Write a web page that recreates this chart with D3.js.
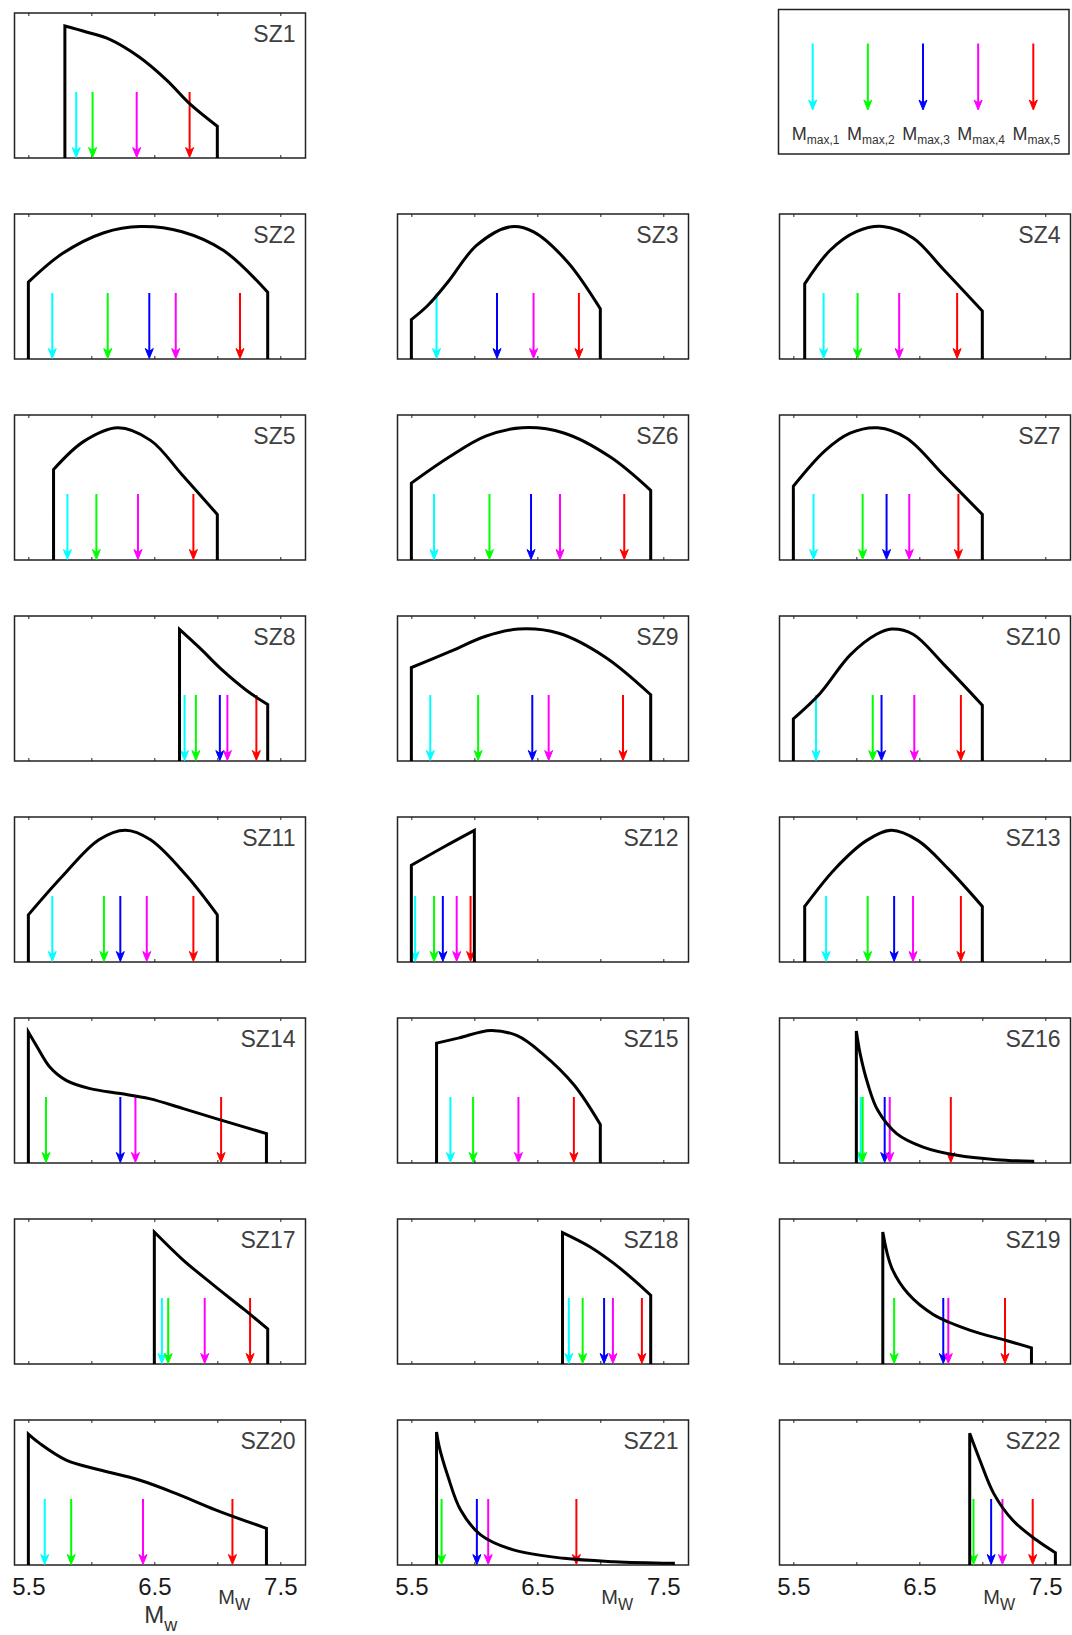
<!DOCTYPE html>
<html>
<head>
<meta charset="utf-8">
<script src="https://cdn.jsdelivr.net/npm/d3@7"></script>
<style>
  body { margin: 0; background: #fff; }
  svg { display: block; font-family: Arial, "Liberation Sans", Helvetica, sans-serif; }
</style>
</head>
<body>
<div id="chart"></div>
<script>
// source zones, in reading order (SZ1 alone on the first row)
const zones = ['SZ1', 'SZ2', 'SZ3', 'SZ4', 'SZ5', 'SZ6', 'SZ7', 'SZ8', 'SZ9', 'SZ10', 'SZ11',
  'SZ12', 'SZ13', 'SZ14', 'SZ15', 'SZ16', 'SZ17', 'SZ18', 'SZ19', 'SZ20', 'SZ21', 'SZ22'];

// magnitude pdf per zone: Mw values and relative density (0 = axis, 1 = top of box)
const curveM = [
  [5.79, 5.96, 6.15, 6.38, 6.60, 6.78, 7.0],
  [5.5, 5.77, 6.10, 6.39, 6.72, 7.05, 7.40],
  [5.5, 5.63, 5.79, 6.02, 6.29, 6.47, 6.74, 7.0],
  [5.59, 5.79, 6.0, 6.21, 6.45, 6.69, 7.0],
  [5.70, 5.94, 6.21, 6.47, 6.72, 7.0],
  [5.5, 5.80, 6.09, 6.38, 6.71, 7.08, 7.40],
  [5.5, 5.75, 5.95, 6.17, 6.40, 6.69, 7.0],
  [6.70, 6.86, 7.04, 7.23, 7.40],
  [5.5, 5.80, 6.09, 6.35, 6.67, 7.04, 7.40],
  [5.5, 5.71, 5.95, 6.16, 6.28, 6.45, 6.69, 7.0],
  [5.5, 5.77, 6.06, 6.27, 6.47, 6.76, 7.0],
  [5.5, 5.75, 6.0],
  [5.59, 5.83, 6.08, 6.28, 6.49, 6.73, 7.0],
  [5.5, 5.57, 5.67, 5.80, 5.99, 6.23, 6.46, 6.73, 6.99, 7.39],
  [5.70, 5.88, 6.13, 6.34, 6.54, 6.79, 7.0],
  [6.0, 6.03, 6.09, 6.17, 6.32, 6.53, 6.80, 7.11, 7.40],
  [6.50, 6.72, 6.97, 7.22, 7.40],
  [6.70, 6.92, 7.11, 7.27, 7.40],
  [6.21, 6.28, 6.41, 6.61, 6.90, 7.19, 7.39],
  [5.5, 5.59, 5.80, 6.07, 6.38, 6.67, 6.99, 7.39],
  [5.70, 5.72, 5.79, 5.89, 6.05, 6.31, 6.71, 7.11, 7.58],
  [6.90, 6.98, 7.09, 7.24, 7.43, 7.58]
];
const curveF = [
  [0.91, 0.869, 0.817, 0.697, 0.536, 0.375, 0.219],
  [0.53, 0.727, 0.871, 0.914, 0.878, 0.748, 0.46],
  [0.272, 0.369, 0.531, 0.785, 0.912, 0.877, 0.669, 0.346],
  [0.518, 0.748, 0.878, 0.914, 0.835, 0.619, 0.331],
  [0.624, 0.818, 0.912, 0.825, 0.588, 0.314],
  [0.53, 0.71, 0.854, 0.912, 0.876, 0.71, 0.48],
  [0.509, 0.753, 0.875, 0.912, 0.84, 0.588, 0.314],
  [0.908, 0.78, 0.626, 0.488, 0.389],
  [0.644, 0.752, 0.86, 0.91, 0.881, 0.716, 0.457],
  [0.291, 0.464, 0.73, 0.874, 0.91, 0.874, 0.67, 0.385],
  [0.325, 0.591, 0.843, 0.909, 0.843, 0.591, 0.325],
  [0.667, 0.79, 0.908],
  [0.383, 0.642, 0.837, 0.908, 0.837, 0.642, 0.383],
  [0.903, 0.80, 0.662, 0.57, 0.513, 0.479, 0.444, 0.375, 0.306, 0.203],
  [0.827, 0.863, 0.914, 0.878, 0.755, 0.54, 0.266],
  [0.91, 0.754, 0.548, 0.363, 0.203, 0.11, 0.053, 0.023, 0.012],
  [0.91, 0.724, 0.544, 0.371, 0.242],
  [0.906, 0.807, 0.692, 0.577, 0.474],
  [0.91, 0.665, 0.486, 0.342, 0.234, 0.162, 0.112],
  [0.903, 0.839, 0.724, 0.655, 0.586, 0.494, 0.379, 0.253],
  [0.917, 0.82, 0.612, 0.381, 0.208, 0.104, 0.046, 0.023, 0.012],
  [0.908, 0.724, 0.494, 0.31, 0.172, 0.085]
];

// Mmax estimates per zone (null = no arrow)
const mmax1 = [5.88, 5.69, 5.70, 5.74, 5.81, 5.68, 5.66, 6.74, 5.65, 5.68, 5.69,
  5.53, 5.76, null, 5.81, 6.035, 6.56, 6.75, null, 5.63, null, null];
const mmax2 = [6.01, 6.13, null, 6.01, 6.04, 6.12, 6.05, 6.83, 6.03, 6.13, 6.10,
  5.68, 6.09, 5.64, 5.99, 6.05, 6.61, 6.86, 6.30, 5.84, 5.74, 6.93];
const mmax3 = [null, 6.46, 6.18, null, null, 6.45, 6.24, 7.02, 6.46, 6.20, 6.23,
  5.75, 6.30, 6.23, null, 6.225, null, 7.03, 6.69, null, 6.02, 7.07];
const mmax4 = [6.36, 6.67, 6.47, 6.34, 6.37, 6.68, 6.42, 7.08, 6.59, 6.46, 6.44,
  5.86, 6.45, 6.35, 6.35, 6.265, 6.90, 7.10, 6.73, 6.41, 6.11, 7.16];
const mmax5 = [6.78, 7.18, 6.83, 6.80, 6.81, 7.19, 6.81, 7.31, 7.18, 6.83, 6.81,
  5.97, 6.83, 7.03, 6.79, 6.75, 7.26, 7.33, 7.18, 7.12, 6.81, 7.40];

const xTicks = [5.5, 6.0, 6.5, 7.0, 7.5];
const xTickLabels = ['5.5', '', '6.5', '', '7.5'];
const legendLabels = ['max,1', 'max,2', 'max,3', 'max,4', 'max,5'];

const arrowColors = ['#00ffff', '#00ff00', '#0000ff', '#ff00ff', '#ff0000'];
const mmaxSets = [mmax1, mmax2, mmax3, mmax4, mmax5];

// layout
const width = 1072, height = 1635;
const panelW = 291, panelH = 145;
const colX = [14.5, 397.5, 779.5];
const rowY0 = 13, rowStep = 201;
const arrowTop = 79;

const x = d3.scaleLinear().domain([5.39, 7.70]).range([0, panelW]);
const y = d3.scaleLinear().domain([0, 1]).range([panelH, 0]);

const svg = d3.select('#chart').append('svg')
    .attr('width', width)
    .attr('height', height);

function arrowHead(sel, cx, tipY, color) {
  sel.append('path')
    .attr('d', `M${cx},${tipY} L${cx - 4},${tipY - 10} L${cx},${tipY - 7} L${cx + 4},${tipY - 10} Z`)
    .attr('fill', color)
    .attr('stroke', color)
    .attr('stroke-width', 1);
}

const line = d3.line()
    .x(function(d) { return x(d[0]); })
    .y(function(d) { return y(d[1]); })
    .curve(d3.curveCatmullRom.alpha(0.5));

zones.forEach(function(name, i) {
  const slot = i === 0 ? 0 : i + 2;
  const row = Math.floor(slot / 3), col = slot % 3;
  const lastRow = row === 7;

  const g = svg.append('g')
      .attr('transform', `translate(${colX[col]},${rowY0 + row * rowStep})`);

  g.append('rect')
      .attr('width', panelW)
      .attr('height', panelH)
      .attr('fill', 'none')
      .attr('stroke', '#222')
      .attr('stroke-width', 1.5);

  // inward ticks top and bottom
  const top = g.append('g')
      .call(d3.axisTop(x).tickValues(xTicks).tickSize(-3).tickFormat(''));
  const bottom = g.append('g')
      .attr('transform', `translate(0,${panelH})`)
      .call(d3.axisBottom(x).tickValues(xTicks).tickSize(-3).tickPadding(12.5)
        .tickFormat(function(d, k) { return lastRow ? xTickLabels[k] : ''; }));
  [top, bottom].forEach(function(a) {
    a.select('.domain').remove();
    a.selectAll('line').attr('stroke', '#222').attr('stroke-width', 1);
  });
  bottom.selectAll('text')
      .attr('fill', '#1a1a1a')
      .style('font-size', '24px')
      .style('font-family', 'Arial, "Liberation Sans", sans-serif');

  // Mmax arrows
  mmaxSets.forEach(function(set, k) {
    const v = set[i];
    if (v === null) return;
    g.append('line')
        .attr('x1', x(v)).attr('x2', x(v))
        .attr('y1', arrowTop).attr('y2', panelH - 6)
        .attr('stroke', arrowColors[k])
        .attr('stroke-width', 2);
    arrowHead(g, x(v), panelH - 0.5, arrowColors[k]);
  });

  // truncated pdf
  const pts = curveM[i].map(function(m, j) { return [m, curveF[i][j]]; });
  const m0 = pts[0][0], mn = pts[pts.length - 1][0];
  g.append('path')
      .attr('d', `M${x(m0)},${y(0)}` + line(pts).replace(/^M/, 'L') + `L${x(mn)},${y(0)}`)
      .attr('fill', 'none')
      .attr('stroke', '#000')
      .attr('stroke-width', 3)
      .attr('stroke-linejoin', 'miter');

  g.append('text')
      .attr('x', panelW - 10)
      .attr('y', 29)
      .attr('text-anchor', 'end')
      .attr('fill', '#404040')
      .style('font-size', '23px')
      .text(name);

  if (lastRow) {
    const lab = g.append('text')
        .attr('x', x(7.0) + 1)
        .attr('y', panelH + 39)
        .attr('fill', '#333')
        .style('font-size', '20px');
    lab.append('tspan').text('M');
    lab.append('tspan').attr('dy', 6).style('font-size', '16px').text('W');

    if (col === 0) {
      const lab2 = g.append('text')
          .attr('x', x(6.5) - 10)
          .attr('y', panelH + 58)
          .attr('fill', '#333')
          .style('font-size', '24px');
      lab2.append('tspan').text('M');
      lab2.append('tspan').attr('dy', 8).style('font-size', '18px').text('w');
    }
  }
});

// legend box
const legend = svg.append('g')
    .attr('transform', 'translate(778.5,9.5)');

legend.append('rect')
    .attr('width', 290.5)
    .attr('height', 144.5)
    .attr('fill', 'none')
    .attr('stroke', '#222')
    .attr('stroke-width', 1.5);

const lx = d3.scalePoint().domain(legendLabels).range([34.2, 254.8]);

legendLabels.forEach(function(l, k) {
  legend.append('line')
      .attr('x1', lx(l)).attr('x2', lx(l))
      .attr('y1', 34).attr('y2', 95)
      .attr('stroke', arrowColors[k])
      .attr('stroke-width', 2);
  arrowHead(legend, lx(l), 100.5, arrowColors[k]);

  const t = legend.append('text')
      .attr('x', lx(l) + 3)
      .attr('y', 130.5)
      .attr('text-anchor', 'middle')
      .attr('fill', '#333')
      .style('font-size', '18px');
  t.append('tspan').text('M');
  t.append('tspan').attr('dy', 4).style('font-size', '12px').text(l);
});
</script>
</body>
</html>
